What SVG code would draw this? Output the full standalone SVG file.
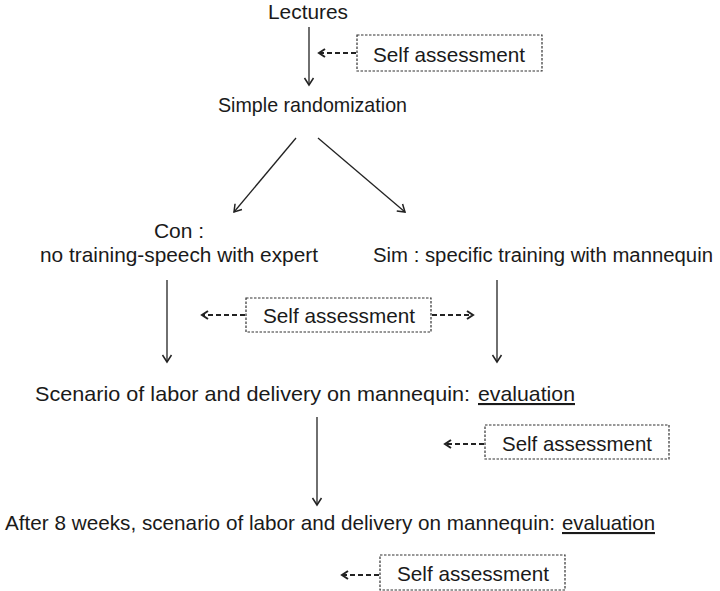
<svg xmlns="http://www.w3.org/2000/svg" width="720" height="591" viewBox="0 0 720 591">
<style>
text{font-family:"Liberation Sans",Arial,sans-serif;font-size:21px;fill:#1a1a1a}
.sa{font-size:21px}
.box{fill:#fff;stroke:#333;stroke-width:1.2;stroke-dasharray:2.5 1.5}
.solid{stroke:#222;stroke-width:1.3;fill:none}
.dash{stroke:#222;stroke-width:2;stroke-dasharray:5 3;fill:none}
.mid{text-anchor:middle}
.u{text-decoration:underline}
</style>
<defs>
<marker id="ah" markerWidth="12" markerHeight="12" refX="10" refY="6" orient="auto" markerUnits="userSpaceOnUse">
<path d="M3,1.5 L10,6 L3,10.5" fill="none" stroke="#222" stroke-width="1.5"/>
</marker>
<marker id="ahd" markerWidth="12" markerHeight="12" refX="10" refY="6" orient="auto" markerUnits="userSpaceOnUse">
<path d="M4,2 L10,6 L4,10" fill="none" stroke="#222" stroke-width="2"/>
</marker>
</defs>
<g id="connectors">
<line class="solid" x1="309" y1="27" x2="309" y2="85" marker-end="url(#ah)"/>
<line class="dash" x1="356" y1="53" x2="319" y2="53" marker-end="url(#ahd)"/>
<line class="solid" x1="296" y1="138" x2="234" y2="212" marker-end="url(#ah)"/>
<line class="solid" x1="318" y1="138" x2="405" y2="212" marker-end="url(#ah)"/>
<line class="solid" x1="167" y1="280" x2="167" y2="362" marker-end="url(#ah)"/>
<line class="solid" x1="497" y1="280" x2="497" y2="362" marker-end="url(#ah)"/>
<line class="dash" x1="245" y1="315" x2="202" y2="315" marker-end="url(#ahd)"/>
<line class="dash" x1="432" y1="315" x2="473" y2="315" marker-end="url(#ahd)"/>
<line class="solid" x1="317" y1="417" x2="317" y2="505" marker-end="url(#ah)"/>
<line class="dash" x1="484" y1="444" x2="445" y2="444" marker-end="url(#ahd)"/>
<line class="dash" x1="379" y1="575" x2="342" y2="575" marker-end="url(#ahd)"/>
</g>
<g id="lectures"><text class="mid" x="308" y="19" textLength="80" lengthAdjust="spacingAndGlyphs">Lectures</text></g>
<g id="sa1"><rect class="box" x="357" y="35" width="185" height="36"/><text class="sa" x="373" y="62" textLength="152" lengthAdjust="spacingAndGlyphs">Self assessment</text></g>
<g id="random"><text x="218" y="112" textLength="189" lengthAdjust="spacingAndGlyphs">Simple randomization</text></g>
<g id="con"><text class="mid" x="179" y="238">Con :</text><text x="40" y="262" textLength="278" lengthAdjust="spacingAndGlyphs">no training-speech with expert</text></g>
<g id="sim"><text x="373" y="262" style="font-size:20px" textLength="340" lengthAdjust="spacingAndGlyphs">Sim : specific training with mannequin</text></g>
<g id="sa2"><rect class="box" x="246" y="298" width="185" height="34"/><text class="sa" x="263" y="323" textLength="152" lengthAdjust="spacingAndGlyphs">Self assessment</text></g>
<g id="scenario"><text x="35" y="401" textLength="435" lengthAdjust="spacingAndGlyphs">Scenario of labor and delivery on mannequin:</text><text class="u" x="478" y="401" textLength="97" lengthAdjust="spacingAndGlyphs">evaluation</text></g>
<g id="sa3"><rect class="box" x="485" y="425" width="184" height="34"/><text class="sa" x="502" y="451" textLength="150" lengthAdjust="spacingAndGlyphs">Self assessment</text></g>
<g id="after"><text x="5" y="530" textLength="550" lengthAdjust="spacingAndGlyphs">After 8 weeks, scenario of labor and delivery on mannequin:</text><text class="u" x="562" y="530" textLength="93" lengthAdjust="spacingAndGlyphs">evaluation</text></g>
<g id="sa4"><rect class="box" x="380" y="555" width="185" height="35"/><text class="sa" x="397" y="581" textLength="152" lengthAdjust="spacingAndGlyphs">Self assessment</text></g>
</svg>
